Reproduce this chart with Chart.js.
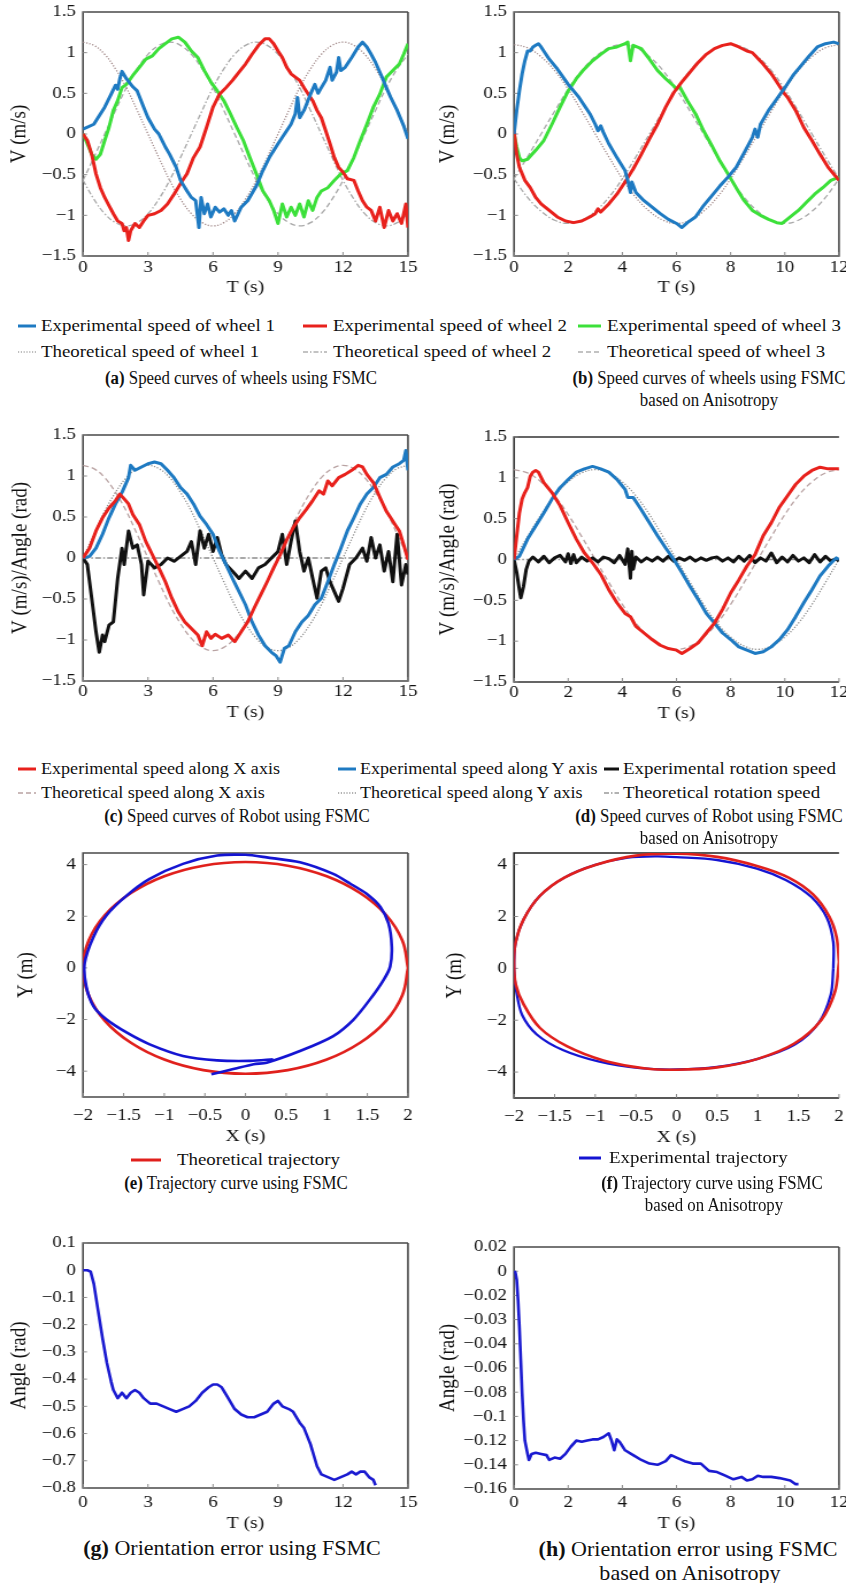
<!DOCTYPE html>
<html>
<head>
<meta charset="utf-8">
<script src="https://cdn.jsdelivr.net/npm/chart.js@4.4.1/dist/chart.umd.min.js"></script>
<style>
  body { margin: 0; background: #fff; width: 846px; height: 1583px; position: relative; overflow: hidden;
         font-family: "Liberation Serif", "Times New Roman", serif; color: #111; }
  canvas { position: absolute; }
  .lg { position: absolute; white-space: nowrap; line-height: 20px; font-size: 16px;
        transform-origin: 0 50%; transform: scaleX(1.18); }
  .lg.tight { transform: scaleX(1.13); }
  .cap { position: absolute; white-space: nowrap; width: 500px; text-align: center;
         font-size: 18.5px; line-height: 22px; transform-origin: 50% 50%; transform: scaleX(0.91); }
  .cap.big { font-size: 21px; line-height: 24px; transform: scaleX(1.05); }
  .sw { position: absolute; }
</style>
</head>
<body>
<canvas id="pa"></canvas><canvas id="pb"></canvas>
<canvas id="pc"></canvas><canvas id="pd"></canvas>
<canvas id="pe"></canvas><canvas id="pf"></canvas>
<canvas id="pg"></canvas><canvas id="ph"></canvas>

<!-- legend for (a)/(b) -->
<svg class="sw" style="left:18px;top:322px" width="18" height="8"><line x1="0" y1="4" x2="18" y2="4" stroke="#1e7ac2" stroke-width="3"/></svg>
<div class="lg" style="left:41px;top:316px">Experimental speed of wheel 1</div>
<svg class="sw" style="left:303px;top:322px" width="24" height="8"><line x1="0" y1="4" x2="24" y2="4" stroke="#e8211c" stroke-width="3"/></svg>
<div class="lg" style="left:333px;top:316px">Experimental speed of wheel 2</div>
<svg class="sw" style="left:578px;top:322px" width="23" height="8"><line x1="0" y1="4" x2="23" y2="4" stroke="#3ce03a" stroke-width="3"/></svg>
<div class="lg" style="left:607px;top:316px">Experimental speed of wheel 3</div>
<svg class="sw" style="left:18px;top:348px" width="18" height="8"><line x1="0" y1="4" x2="18" y2="4" stroke="#aaa" stroke-width="1.4" stroke-dasharray="1.2 1.6"/></svg>
<div class="lg" style="left:41px;top:342px">Theoretical speed of wheel 1</div>
<svg class="sw" style="left:303px;top:348px" width="24" height="8"><line x1="0" y1="4" x2="24" y2="4" stroke="#b0b0b0" stroke-width="1.4" stroke-dasharray="5 2 1.5 2"/></svg>
<div class="lg" style="left:333px;top:342px">Theoretical speed of wheel 2</div>
<svg class="sw" style="left:578px;top:348px" width="23" height="8"><line x1="0" y1="4" x2="23" y2="4" stroke="#b0b0b0" stroke-width="1.4" stroke-dasharray="5 3"/></svg>
<div class="lg" style="left:607px;top:342px">Theoretical speed of wheel 3</div>
<div class="cap" style="left:-9px;top:367px"><b>(a)</b> Speed curves of wheels using FSMC</div>
<div class="cap" style="left:459px;top:367px"><b>(b)</b> Speed curves of wheels using FSMC</div>
<div class="cap" style="left:459px;top:389px">based on Anisotropy</div>

<!-- legend for (c)/(d) -->
<svg class="sw" style="left:18px;top:765px" width="18" height="8"><line x1="0" y1="4" x2="18" y2="4" stroke="#e8211c" stroke-width="3"/></svg>
<div class="lg tight" style="left:41px;top:759px">Experimental speed along X axis</div>
<svg class="sw" style="left:338px;top:765px" width="18" height="8"><line x1="0" y1="4" x2="18" y2="4" stroke="#1e7ac2" stroke-width="3"/></svg>
<div class="lg tight" style="left:360px;top:759px">Experimental speed along Y axis</div>
<svg class="sw" style="left:604px;top:765px" width="15" height="8"><line x1="0" y1="4" x2="15" y2="4" stroke="#111" stroke-width="3"/></svg>
<div class="lg" style="left:623px;top:759px">Experimental rotation speed</div>
<svg class="sw" style="left:18px;top:789px" width="18" height="8"><line x1="0" y1="4" x2="18" y2="4" stroke="#b9a3a3" stroke-width="1.4" stroke-dasharray="5 3"/></svg>
<div class="lg tight" style="left:41px;top:783px">Theoretical speed along X axis</div>
<svg class="sw" style="left:338px;top:789px" width="18" height="8"><line x1="0" y1="4" x2="18" y2="4" stroke="#999" stroke-width="1.4" stroke-dasharray="1.2 1.6"/></svg>
<div class="lg tight" style="left:360px;top:783px">Theoretical speed along Y axis</div>
<svg class="sw" style="left:604px;top:789px" width="15" height="8"><line x1="0" y1="4" x2="15" y2="4" stroke="#999" stroke-width="1.4" stroke-dasharray="5 2 1.5 2"/></svg>
<div class="lg" style="left:623px;top:783px">Theoretical rotation speed</div>
<div class="cap" style="left:-13px;top:805px"><b>(c)</b> Speed curves of Robot using FSMC</div>
<div class="cap" style="left:459px;top:805px"><b>(d)</b> Speed curves of Robot using FSMC</div>
<div class="cap" style="left:459px;top:827px">based on Anisotropy</div>

<!-- legend for (e)/(f) -->
<svg class="sw" style="left:131px;top:1156px" width="30" height="8"><line x1="0" y1="4" x2="30" y2="4" stroke="#e0201c" stroke-width="3"/></svg>
<div class="lg" style="left:177px;top:1150px">Theoretical trajectory</div>
<svg class="sw" style="left:579px;top:1154px" width="22" height="8"><line x1="0" y1="4" x2="22" y2="4" stroke="#1414d2" stroke-width="3"/></svg>
<div class="lg" style="left:609px;top:1148px">Experimental trajectory</div>
<div class="cap" style="left:-14px;top:1172px"><b>(e)</b> Trajectory curve using FSMC</div>
<div class="cap" style="left:462px;top:1172px"><b>(f)</b> Trajectory curve using FSMC</div>
<div class="cap" style="left:464px;top:1194px">based on Anisotropy</div>

<div class="cap big" style="left:-18px;top:1536px"><b>(g)</b> Orientation error using FSMC</div>
<div class="cap big" style="left:438px;top:1537px"><b>(h)</b> Orientation error using FSMC</div>
<div class="cap big" style="left:440px;top:1561px">based on Anisotropy</div>

<script>
// ---- (a) wheel speeds, FSMC ----
const tA = [0,0.5,1,1.5,2,2.5,3,3.5,4,4.5,5,5.5,6,6.5,7,7.5,8,8.5,9,9.5,10,10.5,11,11.5,12,12.5,13,13.5,14,14.5,15];
const aTh1 = [1.13,1.09,0.98,0.80,0.57,0.29,0,-0.29,-0.57,-0.80,-0.98,-1.09,-1.13,-1.09,-0.98,-0.80,-0.57,-0.29,0,0.29,0.57,0.80,0.98,1.09,1.13,1.09,0.98,0.80,0.57,0.29,0];
const aTh2 = [-0.57,-0.80,-0.98,-1.09,-1.13,-1.09,-0.98,-0.80,-0.57,-0.29,0,0.29,0.57,0.80,0.98,1.09,1.13,1.09,0.98,0.80,0.57,0.29,0,-0.29,-0.57,-0.80,-0.98,-1.09,-1.13,-1.09,-0.98];
const aTh3 = [-0.57,-0.29,0,0.29,0.57,0.80,0.98,1.09,1.13,1.09,0.98,0.80,0.57,0.29,0,-0.29,-0.57,-0.80,-0.98,-1.09,-1.13,-1.09,-0.98,-0.80,-0.57,-0.29,0,0.29,0.57,0.80,0.98];

const aBlueT = [0,0.5,1.0,1.3,1.5,1.6,1.7,1.8,2.0,2.3,2.5,2.8,3.0,3.3,3.5,3.8,4.0,4.3,4.5,4.8,5.0,5.2,5.35,5.45,5.6,5.75,5.9,6.1,6.3,6.5,6.7,6.85,7.0,7.3,7.6,8.0,8.3,8.6,9.0,9.3,9.6,9.8,9.9,10.0,10.2,10.5,10.7,10.85,11.0,11.2,11.4,11.5,11.7,11.8,11.9,12.1,12.4,12.7,12.9,13.1,13.3,13.5,13.8,14.0,14.2,14.5,14.8,15.0];
const aBlueV = [0.06,0.12,0.33,0.49,0.60,0.55,0.68,0.77,0.68,0.58,0.53,0.33,0.20,0.06,0.00,-0.16,-0.25,-0.41,-0.57,-0.70,-0.78,-0.82,-1.15,-0.78,-0.98,-0.86,-1.02,-0.90,-0.96,-0.92,-1.0,-0.94,-1.07,-0.90,-0.82,-0.64,-0.45,-0.29,-0.12,0.0,0.12,0.25,0.45,0.20,0.29,0.49,0.61,0.50,0.57,0.66,0.82,0.66,0.76,0.94,0.78,0.82,0.94,1.07,1.13,1.07,0.98,0.88,0.70,0.57,0.45,0.29,0.10,-0.06];
const aRedT = [0,0.2,0.4,0.6,0.8,1.0,1.2,1.4,1.6,1.8,1.9,2.0,2.1,2.2,2.4,2.6,2.8,3.0,3.3,3.6,3.9,4.2,4.5,4.8,5.1,5.4,5.7,6.0,6.3,6.6,6.9,7.2,7.5,7.8,8.1,8.4,8.6,8.8,9.0,9.2,9.4,9.6,9.8,10.0,10.2,10.4,10.6,10.8,11.0,11.2,11.4,11.6,11.8,12.0,12.2,12.5,12.7,12.9,13.1,13.3,13.5,13.7,13.9,14.1,14.3,14.5,14.7,14.9,15.0];
const aRedV = [0,-0.08,-0.25,-0.49,-0.66,-0.78,-0.88,-0.98,-1.07,-1.10,-1.19,-1.15,-1.31,-1.19,-1.10,-1.15,-1.07,-1.0,-0.98,-0.94,-0.86,-0.74,-0.61,-0.49,-0.29,-0.16,0.08,0.33,0.49,0.57,0.66,0.76,0.86,0.98,1.09,1.17,1.17,1.11,1.02,0.94,0.82,0.74,0.70,0.66,0.57,0.49,0.41,0.29,0.20,0.04,-0.12,-0.29,-0.41,-0.47,-0.55,-0.57,-0.70,-0.82,-0.90,-0.94,-1.07,-0.90,-1.15,-0.94,-1.07,-0.98,-1.10,-0.86,-1.15];
const aGrnT = [0,0.2,0.4,0.6,0.8,1.0,1.2,1.4,1.6,1.8,2.0,2.3,2.6,2.9,3.2,3.5,3.8,4.1,4.4,4.7,5.0,5.3,5.6,5.9,6.2,6.5,6.8,7.1,7.4,7.7,8.0,8.3,8.6,8.8,9.0,9.2,9.4,9.6,9.8,10.0,10.2,10.4,10.6,10.8,11.0,11.3,11.6,11.9,12.2,12.5,12.8,13.1,13.4,13.7,14.0,14.3,14.6,14.8,15.0];
const aGrnV = [0,-0.12,-0.25,-0.31,-0.25,-0.08,0.08,0.29,0.41,0.57,0.61,0.72,0.82,0.92,0.96,1.05,1.11,1.17,1.19,1.13,1.02,0.94,0.78,0.64,0.53,0.41,0.25,0.08,-0.08,-0.29,-0.49,-0.70,-0.82,-0.94,-1.10,-0.86,-1.02,-0.90,-1.0,-0.86,-1.02,-0.82,-0.94,-0.78,-0.70,-0.66,-0.57,-0.49,-0.45,-0.29,-0.08,0.12,0.33,0.49,0.70,0.78,0.86,0.98,1.11];

// ---- (b) wheel speeds, FSMC + anisotropy ----
const tB = [0,0.5,1,1.5,2,2.5,3,3.5,4,4.5,5,5.5,6,6.5,7,7.5,8,8.5,9,9.5,10,10.5,11,11.5,12];
const bTh1 = [1.10,1.06,0.95,0.78,0.55,0.28,0,-0.28,-0.55,-0.78,-0.95,-1.06,-1.10,-1.06,-0.95,-0.78,-0.55,-0.28,0,0.28,0.55,0.78,0.95,1.06,1.10];
const bTh2 = [-0.55,-0.78,-0.95,-1.06,-1.10,-1.06,-0.95,-0.78,-0.55,-0.28,0,0.28,0.55,0.78,0.95,1.06,1.10,1.06,0.95,0.78,0.55,0.28,0,-0.28,-0.55];
const bTh3 = [-0.55,-0.28,0,0.28,0.55,0.78,0.95,1.06,1.10,1.06,0.95,0.78,0.55,0.28,0,-0.28,-0.55,-0.78,-0.95,-1.06,-1.10,-1.06,-0.95,-0.78,-0.55];

const bBlueT = [0,0.1,0.2,0.3,0.4,0.5,0.6,0.7,0.8,0.9,1.0,1.3,1.6,2.0,2.4,2.8,3.0,3.1,3.2,3.3,3.5,3.8,4.1,4.2,4.3,4.35,4.5,4.8,5.1,5.4,5.7,6.0,6.2,6.4,6.7,7.0,7.3,7.6,7.9,8.2,8.5,8.8,8.9,9.0,9.1,9.4,9.7,10.0,10.3,10.6,10.9,11.2,11.5,11.8,12.0];
const bBlueV = [0,0.29,0.53,0.74,0.90,1.02,1.02,1.07,1.09,1.11,1.07,0.92,0.80,0.61,0.45,0.25,0.12,0.04,0.10,0.02,-0.12,-0.29,-0.45,-0.57,-0.72,-0.59,-0.72,-0.82,-0.90,-0.98,-1.05,-1.10,-1.15,-1.09,-1.02,-0.88,-0.76,-0.64,-0.53,-0.41,-0.23,-0.04,0.06,-0.04,0.12,0.29,0.43,0.57,0.72,0.84,0.96,1.07,1.11,1.13,1.11];
const bRedT = [0,0.1,0.2,0.4,0.6,0.8,1.0,1.3,1.6,1.9,2.2,2.5,2.8,3.0,3.1,3.2,3.5,3.8,4.1,4.4,4.7,5.0,5.3,5.6,5.9,6.2,6.5,6.8,7.1,7.4,7.7,8.0,8.3,8.6,8.8,9.2,9.5,9.8,10.0,10.1,10.4,10.7,11.0,11.3,11.6,11.9,12.0];
const bRedV = [0.04,-0.25,-0.41,-0.57,-0.66,-0.78,-0.86,-0.94,-1.02,-1.07,-1.09,-1.07,-1.02,-0.98,-0.92,-0.96,-0.86,-0.74,-0.59,-0.43,-0.25,-0.06,0.12,0.33,0.51,0.64,0.76,0.88,0.98,1.05,1.09,1.11,1.07,1.02,1.0,0.86,0.74,0.59,0.49,0.45,0.29,0.08,-0.08,-0.25,-0.41,-0.53,-0.57];
const bGrnT = [0,0.1,0.2,0.3,0.5,0.8,1.1,1.4,1.7,2.0,2.3,2.6,2.9,3.2,3.5,3.8,4.1,4.2,4.3,4.4,4.7,5.0,5.3,5.6,5.9,6.0,6.1,6.4,6.7,7.0,7.3,7.6,7.9,8.2,8.5,8.8,9.1,9.4,9.7,9.9,10.2,10.5,10.8,11.1,11.4,11.7,12.0];
const bGrnV = [0,-0.16,-0.29,-0.33,-0.31,-0.20,-0.08,0.12,0.33,0.53,0.68,0.80,0.90,0.98,1.05,1.07,1.11,1.13,0.90,1.09,1.05,0.92,0.78,0.68,0.59,0.55,0.59,0.41,0.25,0.04,-0.14,-0.33,-0.49,-0.66,-0.82,-0.94,-1.0,-1.05,-1.09,-1.10,-1.02,-0.94,-0.84,-0.74,-0.66,-0.57,-0.53];

// ---- (c) robot speeds, FSMC ----
const cThX = [1.13,1.09,0.98,0.80,0.57,0.29,0,-0.29,-0.57,-0.80,-0.98,-1.09,-1.13,-1.09,-0.98,-0.80,-0.57,-0.29,0,0.29,0.57,0.80,0.98,1.09,1.13,1.09,0.98,0.80,0.57,0.29,0];
const cThY = [0,0.29,0.57,0.80,0.98,1.09,1.13,1.09,0.98,0.80,0.57,0.29,0,-0.29,-0.57,-0.80,-0.98,-1.09,-1.13,-1.09,-0.98,-0.80,-0.57,-0.29,0,0.29,0.57,0.80,0.98,1.09,1.13];
const cRotT = [0,15];
const cThRot = [0,0];

const cRedT = [0,0.3,0.6,0.9,1.2,1.5,1.7,1.9,2.1,2.3,2.6,2.9,3.2,3.5,3.8,4.1,4.4,4.7,5.0,5.3,5.5,5.7,5.9,6.1,6.4,6.7,7.0,7.3,7.6,7.9,8.2,8.5,8.8,9.1,9.4,9.7,10.0,10.3,10.6,10.9,11.1,11.3,11.5,11.8,12.1,12.4,12.7,12.9,13.1,13.4,13.7,14.0,14.2,14.4,14.6,14.8,15.0];
const cRedV = [0,0.12,0.33,0.49,0.61,0.70,0.78,0.72,0.66,0.53,0.41,0.20,0.04,-0.12,-0.29,-0.49,-0.66,-0.78,-0.86,-0.94,-1.07,-0.90,-0.98,-0.93,-0.98,-0.94,-1.02,-0.90,-0.78,-0.61,-0.45,-0.29,-0.12,0.04,0.22,0.37,0.49,0.59,0.70,0.82,0.78,0.94,0.88,0.98,1.02,1.07,1.13,1.11,1.02,0.92,0.74,0.57,0.49,0.41,0.33,0.16,-0.02];
const cBlueT = [0,0.3,0.6,0.9,1.2,1.5,1.8,2.1,2.2,2.4,2.7,3.0,3.3,3.6,3.9,4.2,4.5,4.8,5.1,5.4,5.7,6.0,6.3,6.6,6.9,7.2,7.5,7.8,8.1,8.4,8.7,8.9,9.1,9.3,9.5,9.8,10.1,10.4,10.7,11.0,11.3,11.6,11.9,12.2,12.5,12.8,13.1,13.4,13.7,14.0,14.3,14.6,14.8,14.9,15.0];
const cBlueV = [0,0.02,0.12,0.29,0.49,0.66,0.80,0.98,1.13,1.07,1.11,1.15,1.17,1.15,1.07,0.98,0.86,0.78,0.66,0.51,0.41,0.29,0.08,-0.08,-0.25,-0.41,-0.57,-0.78,-0.94,-1.07,-1.15,-1.19,-1.27,-1.10,-1.07,-0.90,-0.78,-0.70,-0.57,-0.49,-0.29,-0.08,0.12,0.33,0.49,0.66,0.78,0.86,0.98,1.02,1.11,1.15,1.19,1.31,1.07];
const cBlkT = [0,0.2,0.4,0.6,0.75,0.9,1.0,1.2,1.4,1.6,1.8,1.9,2.1,2.3,2.5,2.7,2.8,3.0,3.3,3.6,3.9,4.2,4.5,4.8,5.0,5.2,5.4,5.6,5.8,6.0,6.2,6.4,6.6,6.9,7.2,7.5,7.8,8.1,8.4,8.7,9.0,9.2,9.4,9.6,9.8,10.0,10.2,10.4,10.6,10.8,11.0,11.2,11.4,11.6,11.8,12.0,12.3,12.6,12.9,13.1,13.3,13.5,13.7,13.9,14.1,14.3,14.5,14.7,14.9,15.0];
const cBlkV = [0,-0.08,-0.49,-0.90,-1.15,-0.94,-1.02,-0.82,-0.78,-0.25,0.12,-0.08,0.33,0.12,0.16,-0.08,-0.45,-0.04,-0.12,-0.08,0,-0.04,0.02,0.08,0.20,-0.08,0.33,0.12,0.29,0.08,0.25,0.04,-0.08,-0.16,-0.25,-0.16,-0.25,-0.12,-0.08,0,0.08,0.29,-0.08,0.20,0.45,0.08,-0.16,0,-0.25,-0.49,-0.16,-0.12,-0.29,-0.41,-0.53,-0.37,-0.08,0,0.12,-0.04,0.25,0,0.16,-0.16,0.08,-0.29,0.29,-0.33,-0.08,-0.20];

// ---- (d) robot speeds, FSMC + anisotropy ----
const dThX = [1.10,1.06,0.95,0.78,0.55,0.28,0,-0.28,-0.55,-0.78,-0.95,-1.06,-1.10,-1.06,-0.95,-0.78,-0.55,-0.28,0,0.28,0.55,0.78,0.95,1.06,1.10];
const dThY = [0,0.28,0.55,0.78,0.95,1.06,1.10,1.06,0.95,0.78,0.55,0.28,0,-0.28,-0.55,-0.78,-0.95,-1.06,-1.10,-1.06,-0.95,-0.78,-0.55,-0.28,0];
const dRotT = [0,12];
const dThRot = [0,0];

const dRedT = [0,0.1,0.2,0.3,0.4,0.5,0.6,0.7,0.8,0.9,1.1,1.4,1.7,2.0,2.3,2.6,2.9,3.2,3.5,3.8,4.1,4.3,4.5,4.8,5.1,5.4,5.7,6.0,6.2,6.5,6.8,7.1,7.4,7.7,8.0,8.3,8.6,8.9,9.2,9.5,9.8,10.1,10.4,10.7,11.0,11.3,11.6,11.9,12.0];
const dRedV = [0,0.29,0.57,0.74,0.82,0.88,1.02,1.07,1.09,1.07,0.94,0.82,0.66,0.45,0.25,0.08,-0.04,-0.18,-0.37,-0.53,-0.66,-0.70,-0.82,-0.90,-0.98,-1.05,-1.09,-1.11,-1.15,-1.09,-1.02,-0.90,-0.78,-0.61,-0.41,-0.25,-0.08,0.06,0.29,0.45,0.64,0.78,0.92,1.02,1.09,1.13,1.11,1.11,1.11];
const dBlueT = [0,0.2,0.5,0.8,1.1,1.4,1.7,2.0,2.3,2.6,2.9,3.2,3.5,3.8,4.1,4.2,4.4,4.7,5.0,5.3,5.6,5.9,6.2,6.5,6.8,7.1,7.4,7.7,8.0,8.3,8.6,8.9,9.2,9.5,9.8,10.1,10.4,10.7,11.0,11.3,11.6,11.9,12.0];
const dBlueV = [0,0.04,0.25,0.41,0.57,0.74,0.88,0.98,1.07,1.11,1.14,1.11,1.07,0.98,0.86,0.76,0.76,0.61,0.45,0.29,0.14,0,-0.16,-0.33,-0.49,-0.66,-0.78,-0.90,-0.98,-1.07,-1.11,-1.15,-1.13,-1.07,-0.98,-0.86,-0.70,-0.53,-0.37,-0.20,-0.08,0.02,0];
const dBlkT = [0,0.1,0.2,0.25,0.35,0.45,0.55,0.7,0.9,1.1,1.3,1.5,1.7,1.9,2.0,2.1,2.2,2.3,2.5,2.7,2.9,3.1,3.3,3.5,3.7,3.9,4.1,4.2,4.3,4.35,4.4,4.5,4.7,4.9,5.1,5.3,5.5,5.7,5.9,6.1,6.3,6.5,6.7,6.9,7.1,7.3,7.5,7.7,7.9,8.1,8.3,8.5,8.7,8.9,9.1,9.3,9.5,9.7,9.9,10.1,10.3,10.5,10.7,10.9,11.1,11.3,11.5,11.7,11.9,12.0];
const dBlkV = [0,-0.16,-0.37,-0.47,-0.33,-0.12,-0.02,0.03,-0.03,0.04,-0.04,0.02,0.05,-0.03,0.07,-0.05,0.06,-0.04,0.03,-0.02,0.02,-0.03,0.03,0.01,-0.04,0.05,-0.06,0.13,-0.23,0.10,-0.12,0.03,-0.03,0.02,-0.02,0.03,-0.02,0.04,-0.02,0.02,-0.01,0.03,-0.02,0.02,-0.01,0.02,0.03,-0.02,0.02,-0.03,0.04,-0.02,0.05,-0.04,0.02,-0.02,0.08,-0.04,0.03,-0.03,0.05,-0.02,0.02,-0.04,0.06,-0.03,0.04,-0.02,0.01,-0.02];

// ---- (e) trajectory, FSMC ----
const eRedX = [2,1.93,1.73,1.41,1.0,0.52,0,-0.52,-1.0,-1.41,-1.73,-1.93,-2,-1.93,-1.73,-1.41,-1.0,-0.52,0,0.52,1.0,1.41,1.73,1.93,2];
const eRedY = [0,1.06,2.05,2.9,3.55,3.96,4.1,3.96,3.55,2.9,2.05,1.06,0,-1.06,-2.05,-2.9,-3.55,-3.96,-4.1,-3.96,-3.55,-2.9,-2.05,-1.06,0];
const eBlueX = [-0.42,-0.15,0.10,0.26,0.67,1.08,1.33,1.53,1.70,1.78,1.80,1.76,1.66,1.49,1.29,1.08,0.67,0.26,0.0,-0.35,-0.77,-1.18,-1.46,-1.71,-1.87,-1.98,-1.96,-1.87,-1.71,-1.46,-1.18,-0.77,-0.35,0.06,0.34];
const eBlueY = [-4.12,-3.92,-3.73,-3.67,-3.22,-2.64,-2.0,-1.23,-0.46,0.05,0.82,1.72,2.36,2.87,3.26,3.64,4.09,4.28,4.38,4.35,4.03,3.45,2.81,2.04,1.21,0.18,-0.72,-1.49,-2.0,-2.51,-2.96,-3.41,-3.58,-3.60,-3.54];

// ---- (f) trajectory, FSMC + anisotropy ----
const fRedX = [2.0,1.97,1.88,1.68,1.38,0.99,0.5,0.0,-0.5,-0.99,-1.38,-1.68,-1.88,-1.98,-2.0,-1.98,-1.88,-1.68,-1.35,-0.9,-0.4,0.0,0.5,0.99,1.45,1.78,1.95,2.0];
const fRedY = [0.25,1.2,2.0,2.85,3.5,3.95,4.3,4.42,4.35,4.0,3.5,2.8,1.9,1.0,0.25,-0.6,-1.4,-2.3,-3.0,-3.55,-3.85,-3.91,-3.82,-3.5,-2.9,-2.0,-0.9,0.25];
const fBlueX = [1.93,1.93,1.85,1.66,1.35,0.99,0.5,0.0,-0.24,-0.6,-0.99,-1.38,-1.68,-1.88,-1.98,-2.0,-1.97,-1.9,-1.72,-1.4,-0.95,-0.45,0.0,0.5,0.99,1.45,1.75,1.9,1.93];
const fBlueY = [0.0,1.0,1.95,2.75,3.4,3.85,4.18,4.29,4.32,4.27,4.0,3.5,2.8,1.9,1.0,0.0,-0.9,-1.8,-2.55,-3.15,-3.6,-3.85,-3.9,-3.8,-3.5,-2.95,-2.1,-1.0,0.0];

// ---- (g) orientation error, FSMC ----
const gT = [0,0.2,0.35,0.5,0.7,0.9,1.1,1.3,1.4,1.6,1.8,2.0,2.2,2.4,2.6,2.8,3.1,3.4,3.7,4.0,4.3,4.6,4.9,5.2,5.5,5.8,6.0,6.2,6.4,6.7,7.0,7.3,7.6,7.9,8.2,8.5,8.8,9.0,9.2,9.5,9.7,10.0,10.2,10.5,10.8,11.0,11.3,11.6,11.9,12.2,12.4,12.6,12.8,13.0,13.2,13.4,13.5];
const gV = [0,0,-0.005,-0.05,-0.15,-0.25,-0.34,-0.41,-0.44,-0.47,-0.45,-0.47,-0.45,-0.44,-0.45,-0.47,-0.49,-0.49,-0.50,-0.51,-0.52,-0.51,-0.50,-0.48,-0.45,-0.43,-0.42,-0.42,-0.43,-0.47,-0.51,-0.53,-0.54,-0.54,-0.53,-0.52,-0.49,-0.48,-0.50,-0.51,-0.52,-0.56,-0.58,-0.64,-0.72,-0.75,-0.76,-0.77,-0.76,-0.75,-0.74,-0.75,-0.74,-0.74,-0.76,-0.77,-0.79];

// ---- (h) orientation error, FSMC + anisotropy ----
// y axis is drawn with evenly spaced slots; values below are in slot units of 0.02
const hT = [0,0.05,0.1,0.15,0.2,0.25,0.3,0.35,0.4,0.5,0.55,0.65,0.8,1.0,1.2,1.3,1.5,1.7,1.9,2.1,2.3,2.5,2.7,2.9,3.1,3.3,3.5,3.6,3.7,3.8,3.9,4.1,4.4,4.7,5.0,5.3,5.6,5.8,6.0,6.3,6.6,6.9,7.2,7.5,7.8,8.1,8.4,8.6,8.8,9.0,9.2,9.5,9.8,10.0,10.2,10.4,10.5];
const hV = [0,-0.001,-0.007,-0.024,-0.046,-0.073,-0.101,-0.123,-0.140,-0.151,-0.156,-0.151,-0.150,-0.151,-0.152,-0.156,-0.154,-0.155,-0.151,-0.145,-0.140,-0.141,-0.140,-0.139,-0.139,-0.137,-0.134,-0.140,-0.148,-0.139,-0.141,-0.148,-0.152,-0.156,-0.159,-0.160,-0.157,-0.152,-0.154,-0.157,-0.159,-0.159,-0.165,-0.166,-0.169,-0.172,-0.170,-0.173,-0.172,-0.169,-0.170,-0.170,-0.171,-0.172,-0.173,-0.176,-0.176];

// tick positions and labels
const ticks15 = [0,3,6,9,12,15];
const ticks12 = [0,2,4,6,8,10,12];
const ticksV = [-1.5,-1,-0.5,0,0.5,1,1.5];
const ticksX2 = [-2,-1.5,-1,-0.5,0,0.5,1,1.5,2];
const ticksY4 = [-4,-2,0,2,4];
const ticksG = [0.1,0,-0.1,-0.2,-0.3,-0.4,-0.5,-0.6,-0.7,-0.8];
const ticksH = [0.02,0,-0.02,-0.04,-0.06,-0.08,-0.10,-0.12,-0.14,-0.16,-0.18];
const labelsH = ['0.02','0','\u22120.02','\u22120.03','\u22120.04','\u22120.06','\u22120.08','\u22120.1','\u22120.12','\u22120.14','\u22120.16'];

const BLUE = '#1e7ac2', RED = '#e8211c', GREEN = '#3ce03a', BLACK = '#111111';
const TBLUE = '#1414d2', TRED = '#e0201c', GBLUE = '#1a1ad0';
const DOT = [1.2, 1.6], DASHDOT = [5, 2, 1.5, 2], DASH = [5, 3];

const SX = 423 / 368;          // canvases are drawn narrower and stretched to width
const FAMILY = '"Liberation Serif", "Times New Roman", serif';
const TICK_FONT = { family: FAMILY, size: 16.5 };
const XT_FONT = { family: FAMILY, size: 17 };
const YT_FONT = { family: FAMILY, size: 19 };
const INK = '#111';
const fmt = v => String(v).replace('-', '\u2212');

const framePlugin = {
  id: 'frame',
  beforeDatasetsDraw(chart, args, opts) {
    const { ctx, chartArea: a, scales: { x, y } } = chart;
    ctx.save();
    ctx.strokeStyle = opts.color || '#4a4a4a';
    ctx.lineWidth = 1.6;
    ctx.beginPath();
    ctx.moveTo(a.right, a.top); ctx.lineTo(a.left, a.top); ctx.lineTo(a.left, a.bottom); ctx.lineTo(a.right, a.bottom);
    if (opts.right !== false) ctx.lineTo(a.right, a.top);
    ctx.stroke();
    ctx.strokeStyle = '#8a8a8a';
    ctx.lineWidth = 1;
    ctx.beginPath();
    x.ticks.forEach(t => { const p = x.getPixelForValue(t.value); ctx.moveTo(p, a.bottom); ctx.lineTo(p, a.bottom - 4); });
    y.ticks.forEach(t => { const p = y.getPixelForValue(t.value); ctx.moveTo(a.left, p); ctx.lineTo(a.left + 3.5, p); });
    ctx.stroke();
    ctx.restore();
  }
};
Chart.register(framePlugin);

function pts(xs, ys) {
  if (xs.length !== ys.length) console.error('length mismatch', xs.length, ys.length);
  return xs.map((x, i) => ({ x, y: ys[i] }));
}
const meas = (label, xs, ys, color, w) => ({
  label, data: pts(xs, ys), borderColor: color, borderWidth: w || 3,
  showLine: true, pointRadius: 0, tension: 0, borderJoinStyle: 'round', fill: false
});
const theo = (label, xs, ys, color, dash) => ({
  label, data: pts(xs, ys), borderColor: color, borderWidth: 1.3,
  borderDash: dash, showLine: true, pointRadius: 0, tension: 0.4, fill: false
});

function panel(id, o) {
  const colLeft = o.right ? 423 : 0;
  const plotL = o.right ? 514 : 83;
  const plotR = o.right ? 839 : 408;
  const plotH = o.plotBottom - o.plotTop;
  const h = Math.round(12 + plotH + o.titleGap + 12.6);
  const xAxisH = h - 12 - plotH;
  const yAxisW = (plotL - colLeft) / SX;
  const cv = document.getElementById(id);
  cv.width = 368;
  cv.height = h;
  cv.style.left = colLeft + 'px';
  cv.style.top = (o.plotTop - 12) + 'px';
  cv.style.width = '423px';
  cv.style.height = h + 'px';

  return new Chart(cv, {
    type: 'scatter',
    data: { datasets: o.datasets },
    options: {
      responsive: false,
      animation: false,
      devicePixelRatio: 1,
      layout: { padding: { top: 12, right: (colLeft + 423 - plotR) / SX, left: 0, bottom: 0 } },
      plugins: {
        legend: { display: false },
        tooltip: { enabled: false },
        frame: { right: o.frameRight, color: o.frameColor }
      },
      scales: {
        x: {
          type: 'linear', min: o.xMin, max: o.xMax,
          grid: { display: false, drawTicks: false }, border: { display: false },
          afterBuildTicks: s => { s.ticks = o.xTicks.map(v => ({ value: v })); },
          afterFit: s => { s.height = xAxisH; s.paddingLeft = 0; s.paddingRight = 0; },
          ticks: { font: TICK_FONT, color: INK, padding: o.labelGap - 9.9, maxRotation: 0, autoSkip: false,
                   callback: v => fmt(v) },
          title: { display: true, text: o.xTitle, font: XT_FONT, color: INK, padding: { top: 0, bottom: 2.4 } }
        },
        y: {
          type: 'linear', min: o.yMin, max: o.yMax,
          grid: { display: false, drawTicks: false }, border: { display: false },
          afterBuildTicks: s => { s.ticks = o.yTicks.map(v => ({ value: v })); },
          afterFit: s => { s.width = yAxisW; s.paddingTop = 0; s.paddingBottom = 0; },
          ticks: { font: TICK_FONT, color: INK, padding: 7 / SX, autoSkip: false,
                   callback: (v, i) => o.yLabels ? o.yLabels[i] : fmt(v) },
          title: { display: true, text: o.yTitle, font: YT_FONT, color: INK,
                   padding: { top: (o.yTitleX - colLeft) / SX - 11.4, bottom: 0 } }
        }
      }
    }
  });
}

panel('pa', {
  right: false, plotTop: 12, plotBottom: 256, labelGap: 12, titleGap: 31, yTitleX: 20,
  xMin: 0, xMax: 15, xTicks: ticks15, yMin: -1.5, yMax: 1.5, yTicks: ticksV,
  xTitle: 'T (s)', yTitle: 'V (m/s)',
  datasets: [
    meas('Experimental speed of wheel 1', aBlueT, aBlueV, BLUE),
    meas('Experimental speed of wheel 2', aRedT, aRedV, RED),
    meas('Experimental speed of wheel 3', aGrnT, aGrnV, GREEN),
    theo('Theoretical speed of wheel 1', tA, aTh1, '#a08888', DOT),
    theo('Theoretical speed of wheel 2', tA, aTh2, '#a8a8a8', DASHDOT),
    theo('Theoretical speed of wheel 3', tA, aTh3, '#a8a8a8', DASH)
  ]
});

panel('pb', {
  right: true, plotTop: 12, plotBottom: 256, labelGap: 12, titleGap: 31, yTitleX: 448,
  xMin: 0, xMax: 12, xTicks: ticks12, yMin: -1.5, yMax: 1.5, yTicks: ticksV,
  xTitle: 'T (s)', yTitle: 'V (m/s)',
  datasets: [
    meas('Experimental speed of wheel 1', bBlueT, bBlueV, BLUE),
    meas('Experimental speed of wheel 2', bRedT, bRedV, RED),
    meas('Experimental speed of wheel 3', bGrnT, bGrnV, GREEN),
    theo('Theoretical speed of wheel 1', tB, bTh1, '#a08888', DOT),
    theo('Theoretical speed of wheel 2', tB, bTh2, '#a8a8a8', DASHDOT),
    theo('Theoretical speed of wheel 3', tB, bTh3, '#a8a8a8', DASH)
  ]
});

panel('pc', {
  right: false, plotTop: 435, plotBottom: 681, labelGap: 11, titleGap: 31, yTitleX: 21,
  xMin: 0, xMax: 15, xTicks: ticks15, yMin: -1.5, yMax: 1.5, yTicks: ticksV,
  xTitle: 'T (s)', yTitle: 'V (m/s)/Angle (rad)',
  datasets: [
    meas('Experimental speed along X axis', cRedT, cRedV, RED),
    meas('Experimental speed along Y axis', cBlueT, cBlueV, BLUE),
    meas('Experimental rotation speed', cBlkT, cBlkV, BLACK),
    theo('Theoretical speed along X axis', tA, cThX, '#b9a3a3', DASH),
    theo('Theoretical speed along Y axis', tA, cThY, '#8c8c8c', DOT),
    theo('Theoretical rotation speed', cRotT, cThRot, '#8c8c8c', DASHDOT)
  ]
});

panel('pd', {
  right: true, frameRight: false, frameColor: '#333', plotTop: 437, plotBottom: 682, labelGap: 11, titleGap: 31, yTitleX: 448,
  xMin: 0, xMax: 12, xTicks: ticks12, yMin: -1.5, yMax: 1.5, yTicks: ticksV,
  xTitle: 'T (s)', yTitle: 'V (m/s)/Angle (rad)',
  datasets: [
    meas('Experimental speed along X axis', dRedT, dRedV, RED),
    meas('Experimental speed along Y axis', dBlueT, dBlueV, BLUE),
    meas('Experimental rotation speed', dBlkT, dBlkV, BLACK),
    theo('Theoretical speed along X axis', tB, dThX, '#b9a3a3', DASH),
    theo('Theoretical speed along Y axis', tB, dThY, '#8c8c8c', DOT),
    theo('Theoretical rotation speed', dRotT, dThRot, '#8c8c8c', DASHDOT)
  ]
});

panel('pe', {
  right: false, plotTop: 853, plotBottom: 1097, labelGap: 19, titleGap: 39, yTitleX: 27,
  xMin: -2, xMax: 2, xTicks: ticksX2, yMin: -5, yMax: 4.45, yTicks: ticksY4,
  xTitle: 'X (s)', yTitle: 'Y (m)',
  datasets: [
    { ...meas('Experimental trajectory', eBlueX, eBlueY, TBLUE, 2.6), tension: 0.25 },
    { ...meas('Theoretical trajectory', eRedX, eRedY, TRED, 2.6), tension: 0.4 }
  ]
});

panel('pf', {
  right: true, frameRight: false, frameColor: '#222', plotTop: 853, plotBottom: 1098, labelGap: 19, titleGap: 39, yTitleX: 455,
  xMin: -2, xMax: 2, xTicks: ticksX2, yMin: -5, yMax: 4.45, yTicks: ticksY4,
  xTitle: 'X (s)', yTitle: 'Y (m)',
  datasets: [
    { ...meas('Theoretical trajectory', fRedX, fRedY, TRED, 2.6), tension: 0.35 },
    { ...meas('Experimental trajectory', fBlueX, fBlueY, TBLUE, 2.3), tension: 0.3 }
  ]
});

panel('pg', {
  right: false, plotTop: 1243, plotBottom: 1488, labelGap: 15, titleGap: 35, yTitleX: 20,
  xMin: 0, xMax: 15, xTicks: ticks15, yMin: -0.8, yMax: 0.1, yTicks: ticksG,
  xTitle: 'T (s)', yTitle: 'Angle (rad)',
  datasets: [ meas('Orientation error', gT, gV, GBLUE, 2.6) ]
});

panel('ph', {
  right: true, plotTop: 1247, plotBottom: 1489, labelGap: 14, titleGap: 34, yTitleX: 448,
  xMin: 0, xMax: 12, xTicks: ticks12, yMin: -0.18, yMax: 0.02, yTicks: ticksH, yLabels: labelsH,
  xTitle: 'T (s)', yTitle: 'Angle (rad)',
  datasets: [ meas('Orientation error', hT, hV, GBLUE, 2.6) ]
});
</script>
</body>
</html>
